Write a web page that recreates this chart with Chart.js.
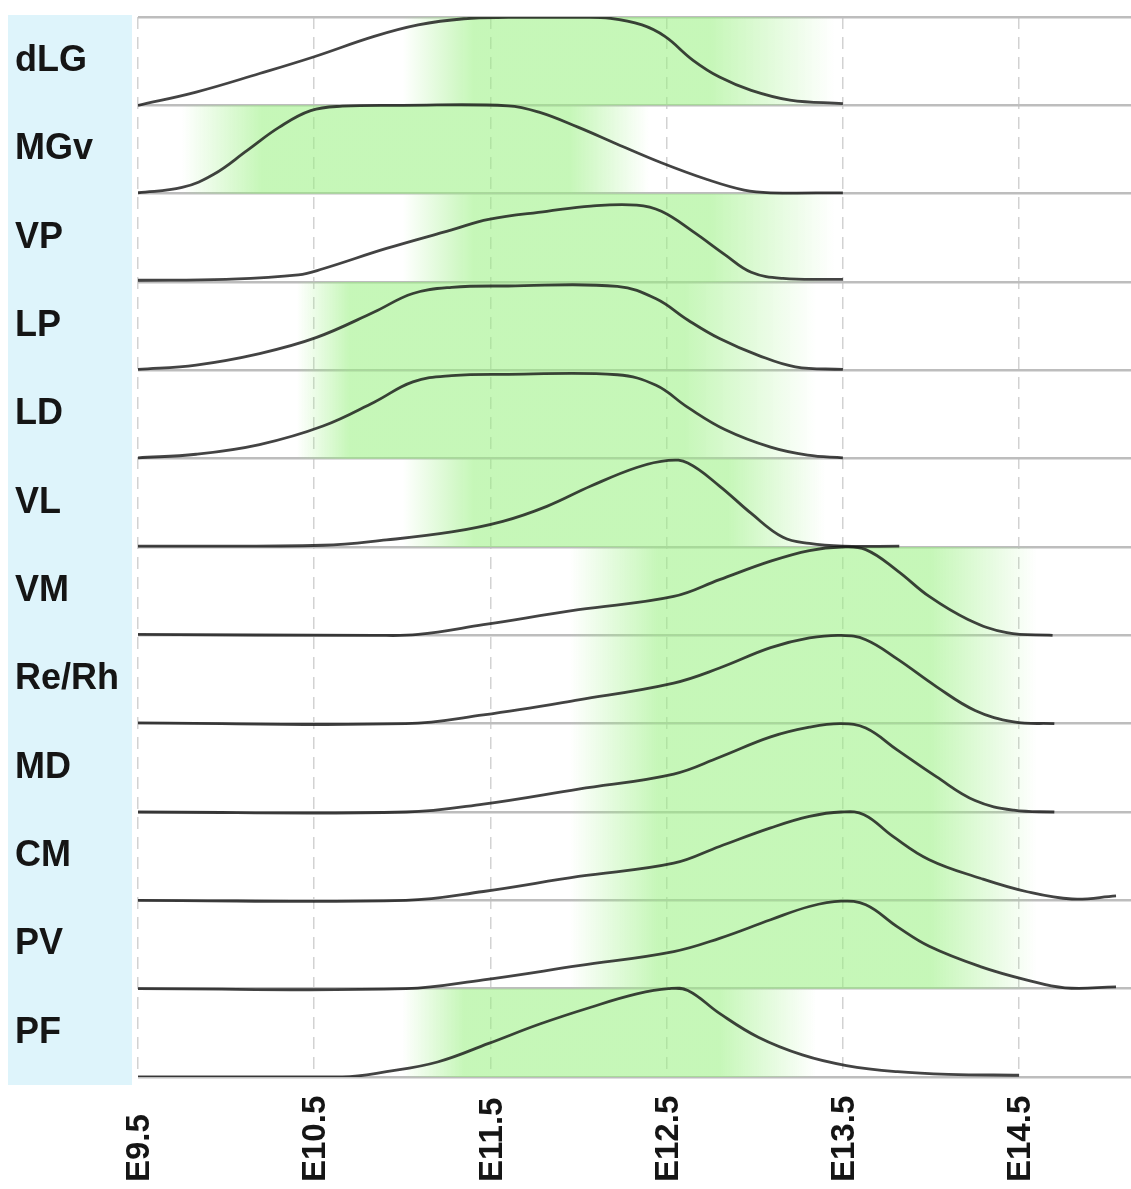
<!DOCTYPE html>
<html>
<head>
<meta charset="utf-8">
<script src="https://cdn.jsdelivr.net/npm/chart.js@4.4.1/dist/chart.umd.min.js"></script>
<style>
  html, body { margin: 0; padding: 0; background: #fff; }
  #wrap { width: 1131px; height: 1189px; position: relative; }
</style>
</head>
<body>
<div id="wrap"><canvas id="ridges"></canvas></div>
<script>
// rows, top to bottom
const rowNames = ['dLG', 'MGv', 'VP', 'LP', 'LD', 'VL', 'VM', 'Re/Rh', 'MD', 'CM', 'PV', 'PF'];

// embryonic stage axis
const stageTicks = [9.5, 10.5, 11.5, 12.5, 13.5, 14.5];
const stageLabels = ['E9.5', 'E10.5', 'E11.5', 'E12.5', 'E13.5', 'E14.5'];
const stageMax = 15.135;

// scaled density per row: [stage, density]
const dLG = [[9.5, 0], [9.83, 0.15], [10.19, 0.36], [10.5, 0.55], [10.84, 0.78], [11.09, 0.91], [11.35, 0.98], [11.6, 0.995], [12.0, 0.995], [12.18, 0.985], [12.36, 0.91], [12.49, 0.78], [12.65, 0.51], [12.8, 0.32], [12.98, 0.17], [13.2, 0.06], [13.5, 0.02]];
const MGv = [[9.5, 0.01], [9.75, 0.07], [9.93, 0.22], [10.12, 0.49], [10.3, 0.75], [10.48, 0.94], [10.66, 0.99], [11.0, 1.0], [11.6, 0.995], [11.78, 0.92], [12.0, 0.75], [12.22, 0.56], [12.47, 0.35], [12.73, 0.16], [12.94, 0.04], [13.09, 0.01], [13.5, 0.01]];
const VP = [[9.5, 0.02], [10.0, 0.03], [10.41, 0.08], [10.55, 0.15], [10.91, 0.38], [11.28, 0.59], [11.49, 0.71], [11.82, 0.8], [12.07, 0.86], [12.33, 0.87], [12.47, 0.8], [12.65, 0.57], [12.83, 0.31], [12.98, 0.11], [13.16, 0.04], [13.5, 0.03]];
const LP = [[9.5, 0.01], [9.83, 0.06], [10.19, 0.19], [10.51, 0.37], [10.84, 0.66], [11.06, 0.87], [11.28, 0.94], [11.6, 0.955], [12.22, 0.95], [12.44, 0.81], [12.62, 0.57], [12.8, 0.36], [13.02, 0.17], [13.23, 0.04], [13.5, 0.01]];
const LD = [[9.5, 0.01], [9.83, 0.05], [10.19, 0.16], [10.55, 0.37], [10.84, 0.64], [11.06, 0.87], [11.28, 0.94], [11.6, 0.955], [12.22, 0.95], [12.44, 0.83], [12.62, 0.58], [12.83, 0.33], [13.09, 0.13], [13.3, 0.04], [13.5, 0.01]];
const VL = [[9.5, 0.01], [10.55, 0.02], [10.91, 0.08], [11.28, 0.17], [11.57, 0.29], [11.82, 0.46], [12.07, 0.69], [12.33, 0.9], [12.51, 0.98], [12.62, 0.95], [12.8, 0.69], [12.98, 0.38], [13.16, 0.11], [13.31, 0.04], [13.5, 0.01], [13.82, 0.01]];
const VM = [[9.5, 0.01], [10.84, 0], [11.09, 0.01], [11.46, 0.12], [12.0, 0.29], [12.54, 0.44], [12.8, 0.63], [13.09, 0.84], [13.31, 0.96], [13.49, 1.0], [13.63, 0.97], [13.81, 0.73], [13.99, 0.44], [14.21, 0.18], [14.43, 0.03], [14.69, 0]];
const ReRh = [[9.5, 0.01], [11.02, 0], [11.46, 0.1], [12.0, 0.27], [12.54, 0.46], [12.8, 0.63], [13.09, 0.86], [13.31, 0.97], [13.49, 1.0], [13.63, 0.95], [13.81, 0.73], [14.03, 0.42], [14.25, 0.15], [14.47, 0.02], [14.7, 0]];
const MD = [[9.5, 0], [11.02, 0], [11.46, 0.09], [12.0, 0.26], [12.54, 0.43], [12.8, 0.62], [13.09, 0.85], [13.31, 0.96], [13.49, 1.0], [13.63, 0.95], [13.81, 0.7], [14.03, 0.4], [14.25, 0.13], [14.47, 0.02], [14.7, 0]];
const CM = [[9.5, 0], [11.02, 0], [11.46, 0.1], [12.0, 0.27], [12.54, 0.42], [12.8, 0.61], [13.09, 0.82], [13.31, 0.95], [13.49, 1.0], [13.62, 0.97], [13.78, 0.73], [13.99, 0.46], [14.28, 0.25], [14.54, 0.1], [14.8, 0.015], [15.05, 0.05]];
const PV = [[9.5, 0], [11.02, 0], [11.46, 0.1], [12.0, 0.26], [12.54, 0.42], [12.8, 0.57], [13.09, 0.78], [13.31, 0.93], [13.49, 0.99], [13.63, 0.95], [13.81, 0.7], [13.99, 0.48], [14.28, 0.25], [14.54, 0.1], [14.76, 0.01], [15.05, 0.02]];
const PF = [[9.5, 0], [10.66, 0], [10.91, 0.06], [11.2, 0.17], [11.49, 0.38], [11.78, 0.6], [12.07, 0.79], [12.33, 0.94], [12.51, 1.0], [12.62, 0.98], [12.8, 0.72], [13.02, 0.45], [13.27, 0.25], [13.52, 0.13], [13.81, 0.06], [14.1, 0.03], [14.5, 0.02]];
const curves = [dLG, MGv, VP, LP, LD, VL, VM, ReRh, MD, CM, PV, PF];

// highlighted window per row: fade in, solid, fade out
const bandStart  = [11.0, 9.75, 11.0, 10.4, 10.4, 11.0, 11.95, 11.95, 11.95, 11.95, 11.95, 11.0];
const solidStart = [11.4, 10.2, 11.4, 10.7, 10.7, 11.4, 12.45, 12.45, 12.45, 12.45, 12.45, 11.35];
const solidEnd   = [12.75, 11.95, 12.75, 12.6, 12.6, 12.85, 14.0, 14.0, 14.0, 14.0, 14.0, 12.8];
const bandEnd    = [13.45, 12.4, 13.45, 13.35, 13.35, 13.4, 14.6, 14.6, 14.6, 14.6, 14.6, 13.35];

const GREEN = 'rgba(151, 240, 126, 0.55)';
const GREEN_CLEAR = 'rgba(151, 240, 126, 0)';
const FONT = '"Liberation Sans", Arial, sans-serif';

function bandGradient(chart, i) {
    if (!chart.chartArea) return GREEN_CLEAR;
    const xs = chart.scales.x;
    const x0 = xs.getPixelForValue(bandStart[i]);
    const x1 = xs.getPixelForValue(bandEnd[i]);
    const span = bandEnd[i] - bandStart[i];
    const g = chart.ctx.createLinearGradient(x0, 0, x1, 0);
    g.addColorStop(0, GREEN_CLEAR);
    g.addColorStop((solidStart[i] - bandStart[i]) / span, GREEN);
    g.addColorStop((solidEnd[i] - bandStart[i]) / span, GREEN);
    g.addColorStop(1, GREEN_CLEAR);
    return g;
}

const last = rowNames.length - 1;

const bandSets = rowNames.map((name, i) => {
    const base = last - i;
    return {
        label: name + ' window',
        data: [[bandStart[i], base + 1], [bandEnd[i], base + 1]],
        fill: { value: base },
        backgroundColor: (ctx) => bandGradient(ctx.chart, i),
        borderColor: 'rgba(0,0,0,0)',
        borderWidth: 0,
        pointRadius: 0,
        order: 2
    };
});

const curveSets = rowNames.map((name, i) => {
    const base = last - i;
    return {
        label: name,
        data: curves[i].map(([x, d]) => [x, base + d]),
        fill: false,
        borderColor: 'rgba(20, 20, 20, 0.8)',
        borderWidth: 2.8,
        pointRadius: 0,
        tension: 0.4,
        order: 1
    };
});

// light blue strip behind the row names
const labelPanel = {
    id: 'labelPanel',
    beforeDraw(chart) {
        const { ctx, chartArea, scales } = chart;
        ctx.save();
        ctx.fillStyle = '#def4fb';
        ctx.fillRect(8, chartArea.top - 2, scales.y.right - 6 - 8, chartArea.bottom - chartArea.top + 10);
        ctx.restore();
    }
};

// stage labels, rotated and aligned at their start
const stageText = {
    id: 'stageText',
    afterDraw(chart) {
        const { ctx, chartArea, scales } = chart;
        ctx.save();
        ctx.font = 'bold 33px ' + FONT;
        ctx.fillStyle = '#151515';
        ctx.textAlign = 'left';
        ctx.textBaseline = 'middle';
        stageTicks.forEach((v, i) => {
            const px = scales.x.getPixelForValue(v);
            ctx.save();
            ctx.translate(px + 2, chartArea.bottom + 105);
            ctx.rotate(-Math.PI / 2);
            ctx.fillText(stageLabels[i], 0, 0);
            ctx.restore();
        });
        ctx.restore();
    }
};

new Chart(document.getElementById('ridges'), {
    type: 'line',
    data: { datasets: [...curveSets, ...bandSets] },
    options: {
        responsive: true,
        maintainAspectRatio: false,
        animation: false,
        layout: { padding: { top: 17, left: 15, right: 0, bottom: 0 } },
        plugins: {
            legend: { display: false },
            tooltip: { enabled: false }
        },
        scales: {
            x: {
                type: 'linear',
                min: 9.5,
                max: stageMax,
                afterBuildTicks: (s) => { s.ticks = stageTicks.map(v => ({ value: v })); },
                afterFit: (s) => { s.height = 112; s.paddingLeft = 0; s.paddingRight = 0; },
                ticks: { display: false },
                grid: { color: '#d2d2d2', lineWidth: 1.5, drawTicks: false },
                border: { display: false, dash: [12, 8] }
            },
            y: {
                type: 'linear',
                min: 0,
                max: 12,
                afterBuildTicks: (s) => {
                    s.ticks = [];
                    for (let k = 0; k <= 24; k++) s.ticks.push({ value: k / 2 });
                },
                afterFit: (s) => { s.width = 123; s.paddingTop = 0; s.paddingBottom = 0; },
                ticks: {
                    autoSkip: false,
                    crossAlign: 'far',
                    color: '#151515',
                    font: { family: FONT, size: 36, weight: 'bold' },
                    callback: (v) => (v % 1 ? rowNames[last - Math.floor(v)] : '')
                },
                grid: {
                    color: (ctx) => (ctx.tick && ctx.tick.value % 1 === 0 ? '#bdbdbd' : 'rgba(0,0,0,0)'),
                    lineWidth: 2.5,
                    drawTicks: false
                },
                border: { display: false }
            }
        }
    },
    plugins: [labelPanel, stageText]
});
</script>
</body>
</html>
